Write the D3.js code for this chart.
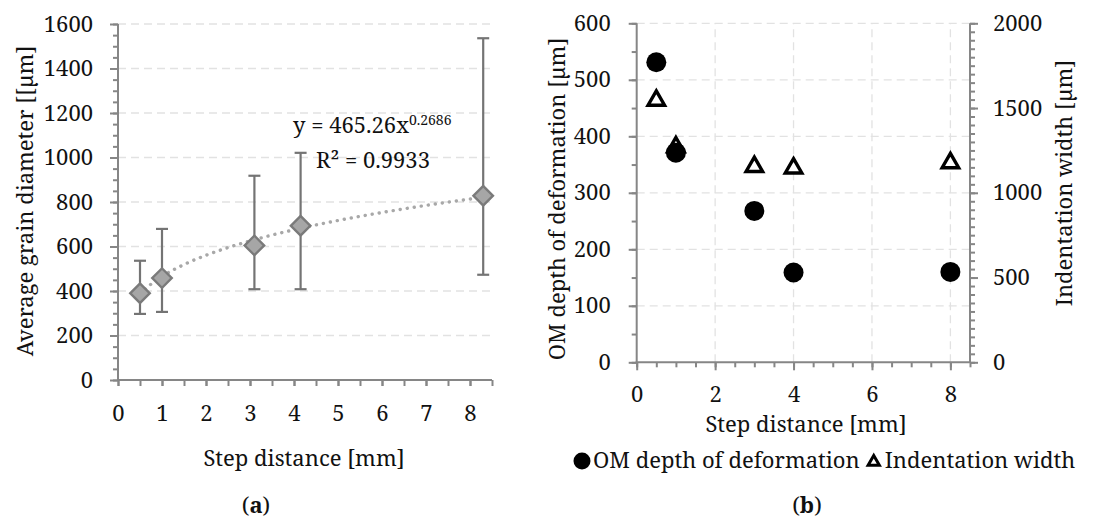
<!DOCTYPE html>
<html>
<head>
<meta charset="utf-8">
<script src="https://cdn.jsdelivr.net/npm/d3@7"></script>
<style>
  body { margin: 0; background: #fff; }
  svg text { font-family: 'Noto Serif', 'Liberation Serif', serif; fill: #111; }
</style>
</head>
<body>
<svg id="fig" width="1094" height="519"></svg>
<script>
  // (a) average grain diameter vs step distance
  var stepA = [0.5, 1, 3.1, 4.15, 8.3];
  var grainMean = [390, 458, 605, 693, 828];
  var grainLow = [297, 306, 408, 408, 473];
  var grainHigh = [536, 679, 918, 1021, 1536];
  var fitCoef = 465.26, fitExp = 0.2686;   // y = 465.26 x^0.2686 as printed on the chart
  var fitX = [0.5, 0.75, 1, 1.5, 2, 2.5, 3, 3.5, 4, 5, 6, 7, 8, 8.3];
  var ticksA_y = [0, 200, 400, 600, 800, 1000, 1200, 1400, 1600];
  var ticksA_x = [0, 1, 2, 3, 4, 5, 6, 7, 8];

  // (b) OM depth and indentation width vs step distance
  var stepB = [0.5, 1, 3, 4, 8];
  var omDepth = [531, 371, 268, 159, 160];
  var indentWidth = [1545, 1270, 1154, 1145, 1176];
  var ticksB_yl = [0, 100, 200, 300, 400, 500, 600];
  var ticksB_yr = [0, 500, 1000, 1500, 2000];
  var ticksB_x = [0, 2, 4, 6, 8];

  var axisColor = '#868686';
  var gridColor = '#e2e2e2';
  var plain = d3.format('d');
  var svg = d3.select('#fig');

  function range(a, b, s) { return d3.range(a, b + s / 2, s); }

  function styleAxis(g) {
    g.select('.domain').remove();
    g.selectAll('.tick line').attr('stroke', axisColor).attr('stroke-width', 2);
    g.selectAll('.tick text').style('font-size', '22px').attr('fill', '#111')
      .style('font-family', "'Noto Serif', 'Liberation Serif', serif");
  }

  function axisLine(x1, y1, x2, y2) {
    svg.append('line').attr('x1', x1).attr('y1', y1).attr('x2', x2).attr('y2', y2)
      .attr('stroke', axisColor).attr('stroke-width', 2);
  }

  /* ---------- panel (a) ---------- */
  var xA = d3.scaleLinear().domain([0, 8.5]).range([118, 492]);
  var yA = d3.scaleLinear().domain([0, 1600]).range([380, 24]);

  var gA = svg.append('g');

  // horizontal grid
  gA.selectAll('.gridA').data(ticksA_y.slice(1)).enter().append('line')
    .attr('x1', xA(0)).attr('x2', xA(8.5))
    .attr('y1', function (d) { return yA(d); }).attr('y2', function (d) { return yA(d); })
    .attr('stroke', gridColor).attr('stroke-width', 1.3).attr('stroke-dasharray', '8,5');

  // minor + major ticks
  gA.append('g').attr('transform', 'translate(' + xA(0) + ',0)')
    .call(d3.axisLeft(yA).tickValues(range(0, 1600, 50)).tickSize(5).tickFormat(''))
    .call(styleAxis);
  gA.append('g').attr('transform', 'translate(' + xA(0) + ',0)')
    .call(d3.axisLeft(yA).tickValues(ticksA_y).tickSize(8).tickPadding(17).tickFormat(plain))
    .call(styleAxis);
  gA.append('g').attr('transform', 'translate(0,' + yA(0) + ')')
    .call(d3.axisBottom(xA).tickValues(range(0, 8.5, 0.5)).tickSize(6).tickFormat(''))
    .call(styleAxis);
  gA.append('g').attr('transform', 'translate(0,' + yA(0) + ')')
    .call(d3.axisBottom(xA).tickValues(ticksA_x).tickSize(6).tickPadding(19).tickFormat(plain))
    .call(styleAxis);
  axisLine(xA(0), yA(1600), xA(0), yA(0));
  axisLine(xA(0) - 1, yA(0), xA(8.5), yA(0));

  // power-law trendline
  var fitLine = d3.line()
    .x(function (d) { return xA(d); })
    .y(function (d) { return yA(fitCoef * Math.pow(d, fitExp)); })
    .curve(d3.curveMonotoneX);
  gA.append('path').datum(fitX).attr('d', fitLine)
    .attr('fill', 'none').attr('stroke', '#a8a8a8').attr('stroke-width', 3.4)
    .attr('stroke-linecap', 'round').attr('stroke-dasharray', '0.1,7');

  // error bars
  var errCol = '#747474';
  stepA.forEach(function (s, i) {
    var x = xA(s);
    gA.append('line').attr('x1', x).attr('x2', x).attr('y1', yA(grainLow[i])).attr('y2', yA(grainHigh[i]))
      .attr('stroke', errCol).attr('stroke-width', 2.2);
    [grainLow[i], grainHigh[i]].forEach(function (v) {
      gA.append('line').attr('x1', x - 6).attr('x2', x + 6).attr('y1', yA(v)).attr('y2', yA(v))
        .attr('stroke', errCol).attr('stroke-width', 2.2);
    });
  });

  // diamond markers
  gA.selectAll('.dia').data(stepA).enter().append('path')
    .attr('d', d3.symbol().type(d3.symbolSquare).size(190))
    .attr('transform', function (d, i) { return 'translate(' + xA(d) + ',' + yA(grainMean[i]) + ') rotate(45)'; })
    .attr('fill', '#a6a6a6').attr('stroke', '#7a7a7a').attr('stroke-width', 2.4);

  // equation
  var eq = gA.append('text').attr('x', 293).attr('y', 133).style('font-size', '22px');
  eq.append('tspan').text('y = ' + fitCoef + 'x');
  eq.append('tspan').attr('dy', -8).style('font-size', '14px').text(String(fitExp));
  gA.append('text').attr('x', 316).attr('y', 168).style('font-size', '22px').text('R\u00b2 = 0.9933');

  gA.append('text').attr('text-anchor', 'middle')
    .attr('transform', 'translate(33,201) rotate(-90)')
    .style('font-size', '22px').text('Average grain diameter [[\u00b5m]');
  gA.append('text').attr('text-anchor', 'middle').attr('x', 304).attr('y', 466)
    .style('font-size', '22px').text('Step distance [mm]');
  var la = gA.append('text').attr('text-anchor', 'middle').attr('x', 256).attr('y', 513).style('font-size', '22px');
  la.append('tspan').text('(');
  la.append('tspan').style('font-weight', 'bold').text('a');
  la.append('tspan').text(')');

  /* ---------- panel (b) ---------- */
  var xB = d3.scaleLinear().domain([0, 8.5]).range([636.7, 970]);
  var yL = d3.scaleLinear().domain([0, 600]).range([362.3, 23.3]);
  var yR = d3.scaleLinear().domain([0, 2000]).range([362.3, 23.3]);

  var gB = svg.append('g');

  gB.selectAll('.gridBy').data(ticksB_yl.slice(1)).enter().append('line')
    .attr('x1', xB(0)).attr('x2', xB(8.5))
    .attr('y1', function (d) { return yL(d); }).attr('y2', function (d) { return yL(d); })
    .attr('stroke', gridColor).attr('stroke-width', 1.3).attr('stroke-dasharray', '8,5');
  gB.selectAll('.gridBx').data(ticksB_x.slice(1)).enter().append('line')
    .attr('y1', yL(0)).attr('y2', yL(600))
    .attr('x1', function (d) { return xB(d); }).attr('x2', function (d) { return xB(d); })
    .attr('stroke', gridColor).attr('stroke-width', 1.3).attr('stroke-dasharray', '8,5');

  gB.append('g').attr('transform', 'translate(' + xB(0) + ',0)')
    .call(d3.axisLeft(yL).tickValues(range(0, 600, 50)).tickSize(5).tickFormat(''))
    .call(styleAxis);
  gB.append('g').attr('transform', 'translate(' + xB(0) + ',0)')
    .call(d3.axisLeft(yL).tickValues(ticksB_yl).tickSize(8).tickPadding(18).tickFormat(plain))
    .call(styleAxis);
  gB.append('g').attr('transform', 'translate(' + xB(8.5) + ',0)')
    .call(d3.axisRight(yR).tickValues(range(0, 2000, 50)).tickSize(5).tickFormat(''))
    .call(styleAxis);
  gB.append('g').attr('transform', 'translate(' + xB(8.5) + ',0)')
    .call(d3.axisRight(yR).tickValues(ticksB_yr).tickSize(8).tickPadding(15).tickFormat(plain))
    .call(styleAxis);
  gB.append('g').attr('transform', 'translate(0,' + yL(0) + ')')
    .call(d3.axisBottom(xB).tickValues(range(0, 8.5, 0.5)).tickSize(5).tickFormat(''))
    .call(styleAxis);
  gB.append('g').attr('transform', 'translate(0,' + yL(0) + ')')
    .call(d3.axisBottom(xB).tickValues(ticksB_x).tickSize(8).tickPadding(16).tickFormat(plain))
    .call(styleAxis);
  axisLine(xB(0), yL(600), xB(0), yL(0));
  axisLine(xB(8.5), yL(600), xB(8.5), yL(0));
  axisLine(xB(0) - 1, yL(0), xB(8.5) + 1, yL(0));

  // indentation width (secondary axis) triangles, then OM depth circles on top
  gB.selectAll('.tri').data(stepB).enter().append('path')
    .attr('d', d3.symbol().type(d3.symbolTriangle).size(118))
    .attr('transform', function (d, i) { return 'translate(' + xB(d) + ',' + yR(indentWidth[i]) + ')'; })
    .attr('fill', '#fff').attr('stroke', '#000').attr('stroke-width', 3.4);
  gB.selectAll('.dot').data(stepB).enter().append('circle')
    .attr('cx', function (d) { return xB(d); })
    .attr('cy', function (d, i) { return yL(omDepth[i]); })
    .attr('r', 10).attr('fill', '#000');

  gB.append('text').attr('text-anchor', 'middle')
    .attr('transform', 'translate(565,199) rotate(-90)')
    .style('font-size', '22px').text('OM depth of deformation [\u00b5m]');
  gB.append('text').attr('text-anchor', 'middle')
    .attr('transform', 'translate(1072,183) rotate(-90)')
    .style('font-size', '22px').text('Indentation width [\u00b5m]');
  gB.append('text').attr('text-anchor', 'middle').attr('x', 806).attr('y', 432)
    .style('font-size', '22px').text('Step distance [mm]');

  // legend
  var leg = gB.append('g').attr('transform', 'translate(0,468)');
  leg.append('circle').attr('cx', 582).attr('cy', -7).attr('r', 8.5).attr('fill', '#000');
  var t1 = leg.append('text').attr('x', 593).attr('y', 0).style('font-size', '22px').text('OM depth of deformation');
  var w1 = t1.node().getComputedTextLength();
  leg.append('path').attr('d', d3.symbol().type(d3.symbolTriangle).size(55))
    .attr('transform', 'translate(' + (593 + w1 + 14) + ',-6)')
    .attr('fill', '#fff').attr('stroke', '#000').attr('stroke-width', 3);
  leg.append('text').attr('x', 593 + w1 + 25).attr('y', 0).style('font-size', '22px').text('Indentation width');

  var lb = gB.append('text').attr('text-anchor', 'middle').attr('x', 807).attr('y', 513).style('font-size', '22px');
  lb.append('tspan').text('(');
  lb.append('tspan').style('font-weight', 'bold').text('b');
  lb.append('tspan').text(')');
</script>
</body>
</html>
